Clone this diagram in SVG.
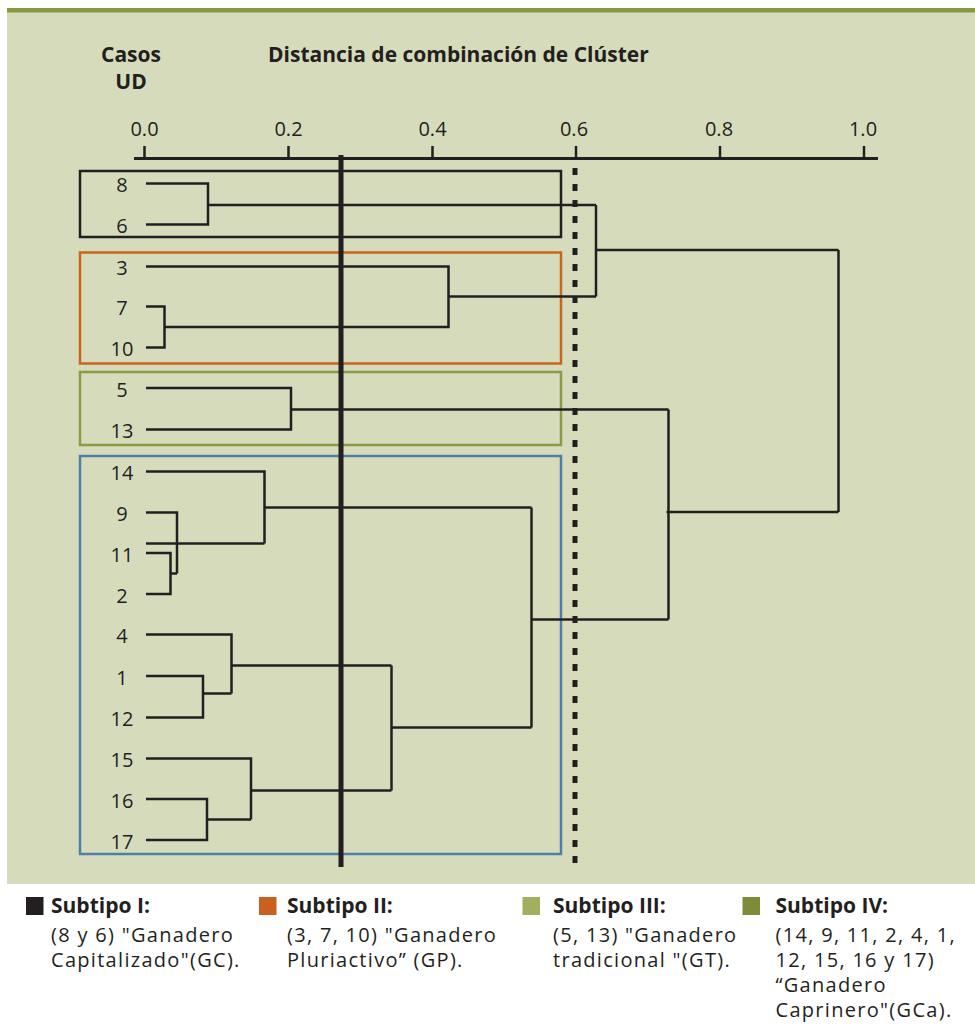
<svg xmlns="http://www.w3.org/2000/svg" width="975" height="1026" viewBox="0 0 975 1026">
<style>
  .t { font-family: "Open Sans", "Liberation Sans", sans-serif; font-size: 20px; fill: #231f20; }
  .b { font-weight: 700; font-size: 21px; }
  .c { text-anchor: middle; }
  .leg { letter-spacing: 1.3px; }
  .ln { fill: none; stroke: #231f20; stroke-width: 2.5; stroke-linejoin: miter; stroke-linecap: butt; }
  .box { fill: none; stroke-width: 2.5; }
</style>
<rect x="0" y="0" width="975" height="1026" fill="#ffffff"/>
<rect x="7" y="12" width="968" height="872" fill="#d6dcbb"/>
<rect x="7" y="8" width="968" height="4.5" fill="#879a3f"/>

<g id="header">
  <text class="t b c" x="131" y="61.5">Casos</text>
  <text class="t b c" x="131" y="88.5">UD</text>
  <text class="t b" x="268" y="61.5">Distancia de combinación de Clúster</text>
</g>

<g id="axis">
  <g class="t c">
    <text x="144.5" y="136">0.0</text>
    <text x="288.5" y="136">0.2</text>
    <text x="432.5" y="136">0.4</text>
    <text x="574" y="136">0.6</text>
    <text x="719" y="136">0.8</text>
    <text x="863" y="136">1.0</text>
  </g>
  <path class="ln" style="stroke-width:3" d="M134,158.5 H878"/>
  <path class="ln" d="M144.5,146 V158 M288.5,146 V158 M432.5,146 V158 M576,146 V158 M720,146 V158 M864,146 V158"/>
</g>

<g id="boxes">
  <rect id="box-I" class="box" x="80" y="171" width="481" height="66" stroke="#231f20"/>
  <rect id="box-II" class="box" x="80" y="252.5" width="481" height="111" stroke="#c8651f"/>
  <rect id="box-III" class="box" x="80" y="372" width="481" height="73" stroke="#8a9a45"/>
  <rect id="box-IV" class="box" x="80" y="456" width="481" height="398" stroke="#4f7fa8"/>
</g>

<g id="leaves" class="t c">
  <text x="122" y="192">8</text>
  <text x="122" y="233">6</text>
  <text x="122" y="274.5">3</text>
  <text x="122" y="315">7</text>
  <text x="122" y="356">10</text>
  <text x="122" y="396.5">5</text>
  <text x="122" y="438">13</text>
  <text x="122" y="480">14</text>
  <text x="122" y="521">9</text>
  <text x="122" y="561.5">11</text>
  <text x="122" y="602.5">2</text>
  <text x="122" y="643">4</text>
  <text x="122" y="684.5">1</text>
  <text x="122" y="726">12</text>
  <text x="122" y="767">15</text>
  <text x="122" y="807.5">16</text>
  <text x="122" y="848.5">17</text>
</g>

<g id="connectors">
  <!-- 8 / 6 -->
  <path class="ln" d="M146,183.5 H208 V224.5 H146"/>
  <path class="ln" d="M208,205 H596"/>
  <!-- 7 / 10 -->
  <path class="ln" d="M146,306.5 H164.5 V347.5 H146"/>
  <!-- 3 / (7,10) -->
  <path class="ln" d="M146,266.5 H448.5 V327 H164.5"/>
  <path class="ln" d="M448.5,296.5 H596"/>
  <!-- I / II -->
  <path class="ln" d="M596,205 V296.5"/>
  <path class="ln" d="M596,250 H838.5"/>
  <!-- 5 / 13 -->
  <path class="ln" d="M146,388 H291 V429.5 H146"/>
  <path class="ln" d="M291,409.5 H668.5"/>
  <!-- 11 / 2 -->
  <path class="ln" d="M146,553 H170.5 V594 H146"/>
  <path class="ln" d="M170.5,573.5 H177"/>
  <!-- 9 / (11,2) -->
  <path class="ln" d="M146,512.5 H177 V573.5"/>
  <path class="ln" d="M146,543.5 H264.5"/>
  <!-- 14 / (9,11,2) -->
  <path class="ln" d="M146,471.5 H264.5 V543.5"/>
  <path class="ln" d="M264.5,507.5 H531.5"/>
  <!-- 1 / 12 -->
  <path class="ln" d="M146,676 H203 V717.5 H146"/>
  <path class="ln" d="M203,693.5 H231.5"/>
  <!-- 4 / (1,12) -->
  <path class="ln" d="M146,634.5 H231.5 V693.5"/>
  <path class="ln" d="M231.5,665.5 H391.5"/>
  <!-- 16 / 17 -->
  <path class="ln" d="M146,799 H207 V840 H146"/>
  <path class="ln" d="M207,819.5 H251"/>
  <!-- 15 / (16,17) -->
  <path class="ln" d="M146,758.5 H251 V819.5"/>
  <path class="ln" d="M251,790.5 H391.5"/>
  <!-- (4,1,12) / (15,16,17) -->
  <path class="ln" d="M391.5,665.5 V790.5"/>
  <path class="ln" d="M391.5,727.5 H531.5"/>
  <!-- (14..2) / (4..17) -->
  <path class="ln" d="M531.5,507.5 V727.5"/>
  <path class="ln" d="M531.5,619.5 H668.5"/>
  <!-- (5,13) / IV -->
  <path class="ln" d="M668.5,409.5 V619.5"/>
  <path class="ln" d="M666.5,512 H838.5"/>
  <!-- root -->
  <path class="ln" d="M838.5,250 V512"/>
</g>

<g id="cut-lines">
  <path d="M341,155 V867" fill="none" stroke="#231f20" stroke-width="5"/>
  <path d="M575,168 V866" fill="none" stroke="#231f20" stroke-width="5" stroke-dasharray="7 9"/>
</g>

<g id="legend-I">
  <rect x="26" y="897" width="17.5" height="18" fill="#231f20"/>
  <text class="t b" x="51" y="913">Subtipo I:</text>
  <text class="t leg" x="51" y="942">(8 y 6)  "Ganadero</text>
  <text class="t leg" x="51" y="967">Capitalizado"(GC).</text>
</g>
<g id="legend-II">
  <rect x="259" y="897" width="17.5" height="18" fill="#c8601e"/>
  <text class="t b" x="287" y="913">Subtipo II:</text>
  <text class="t leg" x="287" y="942">(3, 7, 10) "Ganadero</text>
  <text class="t leg" x="287" y="967">Pluriactivo” (GP).</text>
</g>
<g id="legend-III">
  <rect x="522.5" y="897" width="17.5" height="18" fill="#a2b05e"/>
  <text class="t b" x="553" y="913">Subtipo III:</text>
  <text class="t leg" x="553" y="942">(5, 13) "Ganadero</text>
  <text class="t leg" x="553" y="967">tradicional "(GT).</text>
</g>
<g id="legend-IV">
  <rect x="742.5" y="897" width="17.5" height="18" fill="#7e8c3a"/>
  <text class="t b" x="775.5" y="913">Subtipo IV:</text>
  <text class="t leg" x="775.5" y="942">(14, 9, 11, 2, 4, 1,</text>
  <text class="t leg" x="775.5" y="967">12, 15, 16 y 17)</text>
  <text class="t leg" x="775.5" y="992">“Ganadero</text>
  <text class="t leg" x="775.5" y="1017">Caprinero"(GCa).</text>
</g>
</svg>
